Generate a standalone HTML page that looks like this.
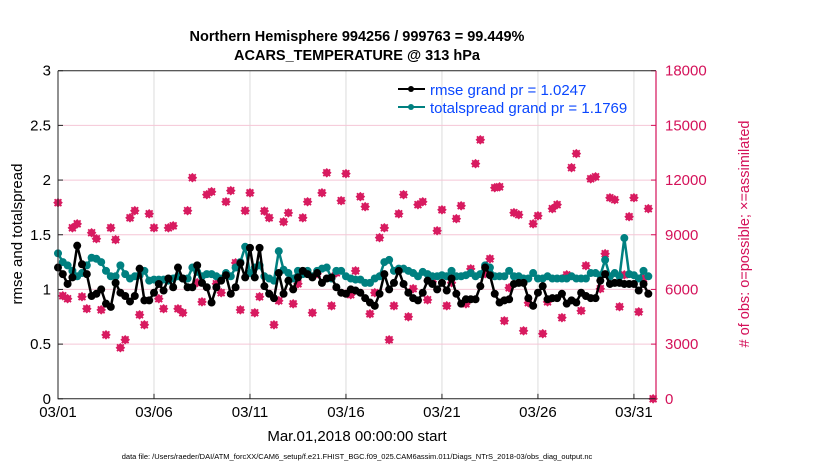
<!DOCTYPE html>
<html><head><meta charset="utf-8"><style>
body{margin:0;background:#fff}
svg{display:block;font-family:"Liberation Sans",Arial,sans-serif}
</style></head><body>
<svg id="chart" width="830" height="470" viewBox="0 0 830 470">
<text x="357" y="41" text-anchor="middle" font-size="14.5" font-weight="bold">Northern Hemisphere 994256 / 999763 = 99.449%</text>
<text x="357" y="60" text-anchor="middle" font-size="14.5" font-weight="bold">ACARS_TEMPERATURE @ 313 hPa</text>
<g id="grid"></g>
<g id="series"></g>
<g id="axes"></g>
<text x="22" y="234" text-anchor="middle" font-size="15" transform="rotate(-90 22 234)">rmse and totalspread</text>
<text x="749" y="234" text-anchor="middle" font-size="14.5" fill="#d41159" transform="rotate(-90 749 234)"># of obs: o=possible; ×=assimilated</text>
<text x="357" y="441" text-anchor="middle" font-size="15">Mar.01,2018 00:00:00 start</text>
<text x="357" y="459" text-anchor="middle" font-size="7.5">data file: /Users/raeder/DAI/ATM_forcXX/CAM6_setup/f.e21.FHIST_BGC.f09_025.CAM6assim.011/Diags_NTrS_2018-03/obs_diag_output.nc</text>
<g>
<line x1="398" y1="89" x2="425" y2="89" stroke="#000" stroke-width="2"/><circle cx="411" cy="89" r="3" fill="#000"/>
<text x="430" y="95" font-size="15" fill="#0a47ff">rmse grand pr = 1.0247</text>
<line x1="398" y1="107" x2="425" y2="107" stroke="#008080" stroke-width="2"/><circle cx="411" cy="107" r="3" fill="#008080"/>
<text x="430" y="113" font-size="15" fill="#0a47ff">totalspread grand pr = 1.1769</text>
</g>
</svg>
<script>
const xTickLabels=["03/01","03/06","03/11","03/16","03/21","03/26","03/31"];
const xTickDays=[0,5,10,15,20,25,30];
const leftTicks=[0,0.5,1,1.5,2,2.5,3];
const rightTicks=[0,3000,6000,9000,12000,15000,18000];
const rmse=[1.2,1.14,1.05,1.11,1.40,1.23,1.14,0.94,0.96,1.0,0.87,0.84,1.06,0.97,0.94,0.89,0.94,1.19,0.9,0.9,0.97,1.05,0.99,1.10,1.02,1.2,1.1,1.02,1.02,1.22,1.06,1.02,0.88,1.02,1.08,1.13,0.96,1.02,1.24,1.11,1.38,
1.11,1.38,1.03,0.96,0.92,1.15,0.96,1.08,1.0,1.11,1.17,1.14,1.11,1.15,1.06,1.10,1.11,1.02,0.97,0.96,1.0,0.99,0.97,0.92,0.88,0.85,0.96,1.14,1.0,1.06,1.17,1.05,0.97,0.92,0.9,0.97,1.08,1.05,1.0,
1.06,0.99,1.10,0.96,0.87,0.91,0.91,0.91,1.03,1.2,1.13,0.96,0.88,0.9,0.91,1.05,1.06,1.06,0.92,0.85,0.97,1.03,0.91,0.92,0.92,0.96,0.87,0.9,0.88,0.97,0.94,0.92,0.92,1.08,1.14,1.05,1.06,1.06,1.05,1.05,1.05,0.99,1.05,0.96];
const spread=[1.33,1.25,1.22,1.17,1.12,1.15,1.22,1.29,1.28,1.25,1.17,1.12,1.12,1.22,1.14,1.1,1.12,1.13,1.17,1.08,1.09,1.09,1.09,1.08,1.1,1.12,1.1,1.1,1.2,1.16,1.12,1.14,1.14,1.12,1.1,1.15,1.12,1.2,1.25,1.39,1.15,
1.2,1.22,1.12,1.1,1.08,1.35,1.18,1.15,1.1,1.17,1.14,1.17,1.12,1.17,1.19,1.2,1.1,1.17,1.17,1.12,1.1,1.09,1.09,1.06,1.06,1.1,1.12,1.25,1.27,1.17,1.19,1.19,1.17,1.15,1.12,1.16,1.14,1.12,1.12,
1.13,1.12,1.17,1.12,1.12,1.13,1.15,1.12,1.14,1.22,1.2,1.12,1.12,1.12,1.17,1.12,1.12,1.1,1.1,1.15,1.1,1.1,1.12,1.1,1.1,1.1,1.1,1.12,1.1,1.1,1.1,1.15,1.15,1.13,1.27,1.12,1.15,1.12,1.47,1.14,1.13,1.1,1.17,1.12];
const obsCounts=[10760,5650,5490,9380,9600,5600,4940,9110,8780,4880,3510,9380,8730,2800,3240,9930,10320,4610,4060,10150,9380,5490,4940,9380,9490,4940,4720,10320,12130,6370,5320,11200,11360,6310,5820,10810,11420,7460,4880,10320,11300,4720,5600,
10300,9930,4060,5380,9710,10200,5210,6310,9930,10810,4720,6860,11300,12400,5100,6910,10870,12350,5710,7020,11090,10540,4660,5820,8840,9380,3240,5100,10150,11200,4500,6040,10650,10810,5430,6420,9220,10370,5100,
6370,9880,10590,5210,7130,12900,14210,6860,7680,11580,11630,4280,6090,10210,10100,3730,5270,9600,10040,3570,5320,10430,10650,4450,6800,12680,13450,4830,7300,12070,12180,6040,7960,11030,10920,5050,6800,9990,11030,4770,6590,10430,0];
const stepDays=0.25;
const X0=58,X1=656,Y0=398.8,Y1=70.7,DMAX=31.15;
const xs=d=>X0+(d/DMAX)*(X1-X0);
const yl=v=>Y0-(v/3)*(Y0-Y1);
const yr=v=>Y0-(v/18000)*(Y0-Y1);
const NS="http://www.w3.org/2000/svg";
function mk(tag,attrs,parent){const e=document.createElementNS(NS,tag);for(const k in attrs)e.setAttribute(k,attrs[k]);parent.appendChild(e);return e;}
const grid=document.getElementById('grid'),axes=document.getElementById('axes'),series=document.getElementById('series');
xTickDays.forEach((d,i)=>{
  const g=mk('line',{x1:xs(d),x2:xs(d),y1:Y1,y2:Y0,stroke:'#dcdcdc','stroke-width':1},grid);
  
  
  const t=mk('line',{x1:xs(d),x2:xs(d),y1:Y0,y2:Y0-5,stroke:'#222','stroke-width':1},axes);
  
  
  const l=mk('text',{x:xs(d),y:Y0+18,'text-anchor':'middle','font-size':15},axes);
  l.textContent=xTickLabels[i];
  
  
});
rightTicks.forEach(v=>{
  if(v>0&&v<18000){const g=mk('line',{x1:X0,x2:X1,y1:yr(v),y2:yr(v),stroke:'#f5c6d6','stroke-width':1},grid);
  
  }
  const t=mk('line',{x1:X1-5,x2:X1,y1:yr(v),y2:yr(v),stroke:'#d41159','stroke-width':1},axes);
  
  
  const l=mk('text',{x:X1+9,y:yr(v)+5,'font-size':15,fill:'#d41159'},axes);
  l.textContent=String(v);
  
  
});
leftTicks.forEach(v=>{
  const t=mk('line',{x1:X0,x2:X0+5,y1:yl(v),y2:yl(v),stroke:'#222','stroke-width':1},axes);
  
  
  const l=mk('text',{x:X0-7,y:yl(v)+5,'text-anchor':'end','font-size':15},axes);
  l.textContent=String(v);
  
  
});
const frame=mk('path',{d:`M${X0},${Y1}H${X1}M${X0},${Y1}V${Y0}H${X1}`,stroke:'#222',fill:'none','stroke-width':1},axes);


const ra=mk('line',{x1:X1,x2:X1,y1:Y1,y2:Y0,stroke:'#d41159','stroke-width':1.2},axes);


obsCounts.forEach((c,i)=>{
  const d=Math.min(i*stepDays,DMAX);
  const x=xs(d),y=yr(c);
  const g=mk('g',{},series);
  
  
  mk('path',{d:`M${x-4.8},${y}L${x},${y-4.8}L${x+4.8},${y}L${x},${y+4.8}Z`,fill:'#d81b60'},g);
  mk('path',{d:`M${x-3.4},${y-3.4}L${x+3.4},${y+3.4}M${x-3.4},${y+3.4}L${x+3.4},${y-3.4}`,stroke:'#d81b60','stroke-width':1.8},g);
});
function drawLine(vals,color,name){
  const pts=vals.map((v,i)=>[xs(i*stepDays),yl(v)]);
  const p=mk('polyline',{points:pts.map(p=>p.join(',')).join(' '),fill:'none',stroke:color,'stroke-width':2.5,'stroke-linejoin':'round'},series);
  
  
  pts.forEach(q=>{
    const c=mk('circle',{cx:q[0],cy:q[1],r:4,fill:color},series);
    
    
  });
}
drawLine(spread,'#008080','totalspread');
drawLine(rmse,'#000','rmse');
</script>
</body></html>
